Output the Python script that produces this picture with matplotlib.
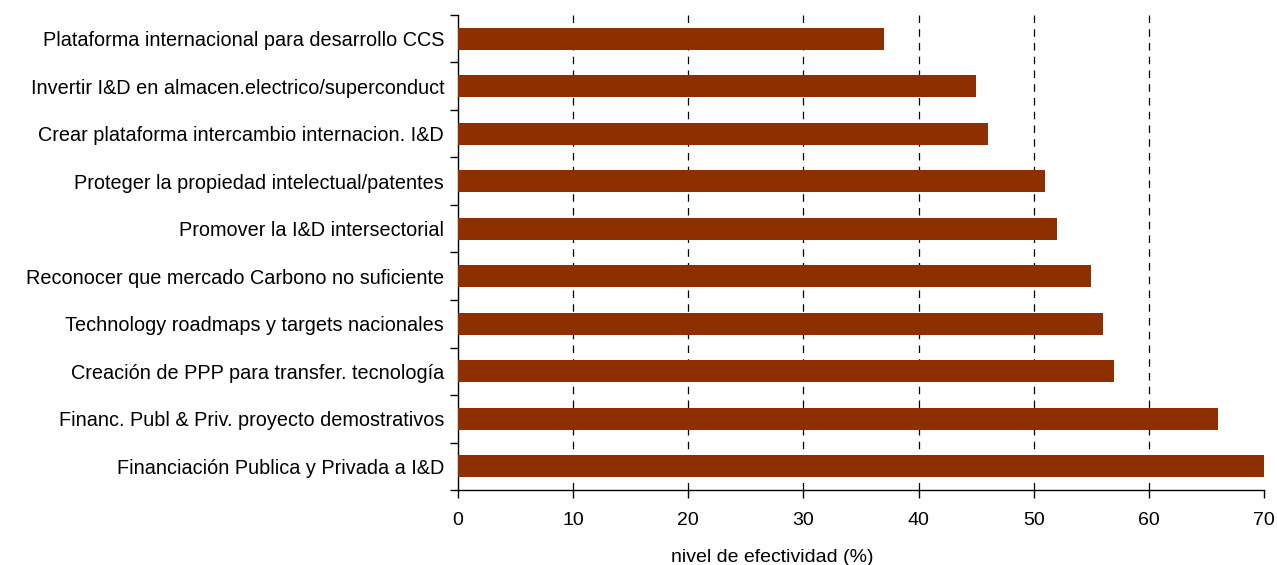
import matplotlib
matplotlib.use("Agg")
import matplotlib.pyplot as plt
import numpy as np

plt.rcParams['font.family'] = ['Liberation Sans', 'DejaVu Sans']

# medidas, de arriba hacia abajo
medidas = [
    "Plataforma internacional para desarrollo CCS",
    "Invertir I&D en almacen.electrico/superconduct",
    "Crear plataforma intercambio internacion. I&D",
    "Proteger la propiedad intelectual/patentes",
    "Promover la I&D intersectorial",
    "Reconocer que mercado Carbono no suficiente",
    "Technology roadmaps y targets nacionales",
    "Creación de PPP para transfer. tecnología",
    "Financ. Publ & Priv. proyecto demostrativos",
    "Financiación Publica y Privada a I&D",
]
efectividad = [37, 45, 46, 51, 52, 55, 56, 57, 66, 70]
xticks = [0, 10, 20, 30, 40, 50, 60, 70]

fig = plt.figure(figsize=(12.77, 5.65), dpi=100)
ax = fig.add_axes([0.3587, 0.1327, 0.6311, 0.8408])

y = np.arange(len(medidas))
ax.barh(y, efectividad, height=0.47, color='#8E2F00', zorder=3)

ax.set_ylim(len(medidas) - 0.5, -0.5)
ax.set_xlim(0, 70)
ax.set_xticks(xticks)
ax.set_yticks(y)
ax.set_yticklabels(medidas, fontsize=14.3)
ax.set_yticks(np.arange(-0.5, len(medidas)), minor=True)
ax.tick_params(axis='y', which='major', length=0, pad=10)
ax.tick_params(axis='y', which='minor', length=6, direction='out', width=1)
ax.tick_params(axis='x', length=6, direction='out', width=1, labelsize=14, pad=10)

# rejilla vertical discontinua
for v in xticks[1:-1]:
    ax.axvline(v, color='black', linewidth=0.9, linestyle=(0, (6, 5)), zorder=1)

for s in ['top', 'right']:
    ax.spines[s].set_visible(False)
ax.spines['left'].set_linewidth(1)
ax.spines['bottom'].set_linewidth(1)

ax.set_xlabel("nivel de efectividad (%)", fontsize=14)
ax.xaxis.set_label_coords(0.39, -0.142)
ax.xaxis.label.set_va('center')

fig.savefig("out.png", dpi=100)
